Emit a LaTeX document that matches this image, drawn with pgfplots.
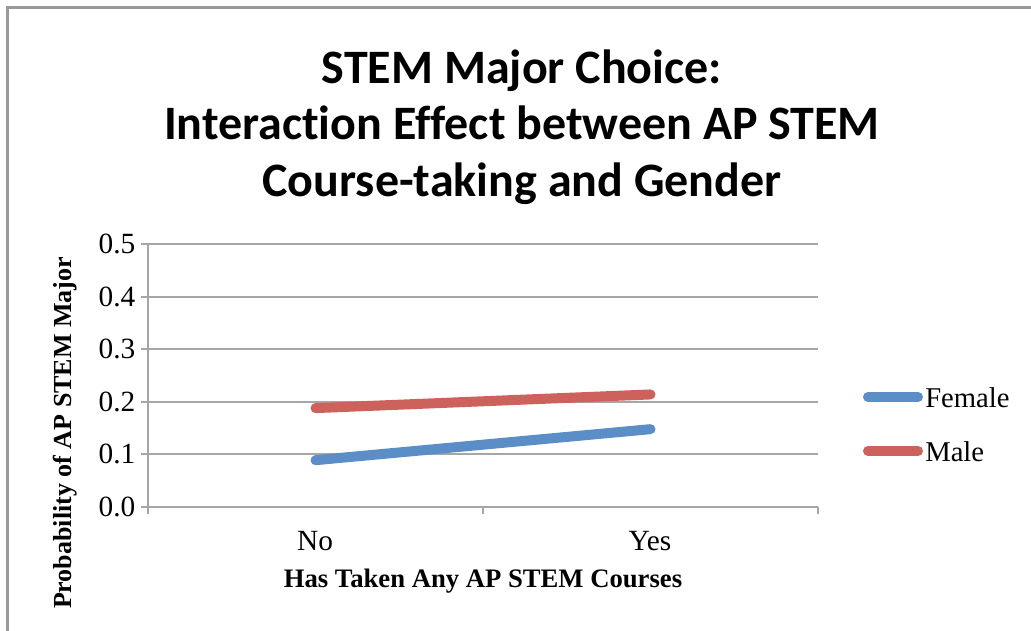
\documentclass[border=0pt]{standalone}
\usepackage{pgfplots}
\pgfplotsset{compat=1.18}
\usepackage{fontspec}
\setmainfont{Liberation Serif}
\newfontfamily\titlefont[Ligatures=CommonOff]{Carlito}
\definecolor{fem}{HTML}{5B8EC6}
\definecolor{mal}{HTML}{CC625B}
\definecolor{gridc}{HTML}{A6A6A6}
\definecolor{framec}{HTML}{999999}
\begin{document}
\begin{tikzpicture}[x=0.75pt,y=-0.75pt]
\path[use as bounding box] (0,0) rectangle (1031,631);
\draw[framec, line width=2pt] (7.5,631) -- (7.5,7.5) -- (1031,7.5);
\begin{axis}[
  at={(111pt,-380.25pt)}, anchor=south west,
  scale only axis, width=502.5pt, height=197.25pt,
  xmin=0, xmax=2, ymin=0, ymax=0.5,
  axis x line=bottom, axis y line=left,
  axis line style={gridc, line width=1.5pt, -},
  xtick={0,1,2}, xticklabels={},
  ytick={0,0.1,0.2,0.3,0.4,0.5},
  /pgf/number format/fixed,
  /pgf/number format/fixed zerofill,
  /pgf/number format/precision=1,
  /pgf/number format/assume math mode=true,
  tick label style={font=\fontsize{22}{24}\selectfont},
  yticklabel style={xshift=-1pt},
  tick align=outside, major tick length=5pt,
  tick style={gridc, line width=1.5pt},
  ymajorgrids, grid style={gridc, line width=1.5pt},
  clip=false,
]
\addplot[fem, line width=7.5pt, line cap=round] coordinates {(0.5,0.089) (1.5,0.148)};
\addplot[mal, line width=7.5pt, line cap=round] coordinates {(0.5,0.188) (1.5,0.214)};
\end{axis}
% category labels
\node[font=\fontsize{22}{24}\selectfont] at (315,541) {No};
\node[font=\fontsize{22}{24}\selectfont] at (650,541) {Yes};
% axis titles
\node[font=\fontsize{20}{24}\selectfont\bfseries] at (483,581) {Has Taken Any AP STEM Courses};
\node[font=\fontsize{19.5}{24}\selectfont\bfseries, rotate=90] at (65,433) {Probability of AP STEM Major};
% legend
\draw[fem, line width=7.5pt, line cap=round] (868,397) -- (918,397);
\draw[mal, line width=7.5pt, line cap=round] (868,451) -- (918,451);
\node[anchor=west, inner sep=0pt, font=\fontsize{21.5}{24}\selectfont] at (925,398) {Female};
\node[anchor=west, inner sep=0pt, font=\fontsize{21.5}{24}\selectfont] at (925,452) {Male};
% title
\node[align=center, font=\titlefont\bfseries\fontsize{36}{42.5}\selectfont] at (522,127) {STEM Major Choice:\\Interaction Effect between AP STEM\\Course-taking and Gender};
\end{tikzpicture}
\end{document}
